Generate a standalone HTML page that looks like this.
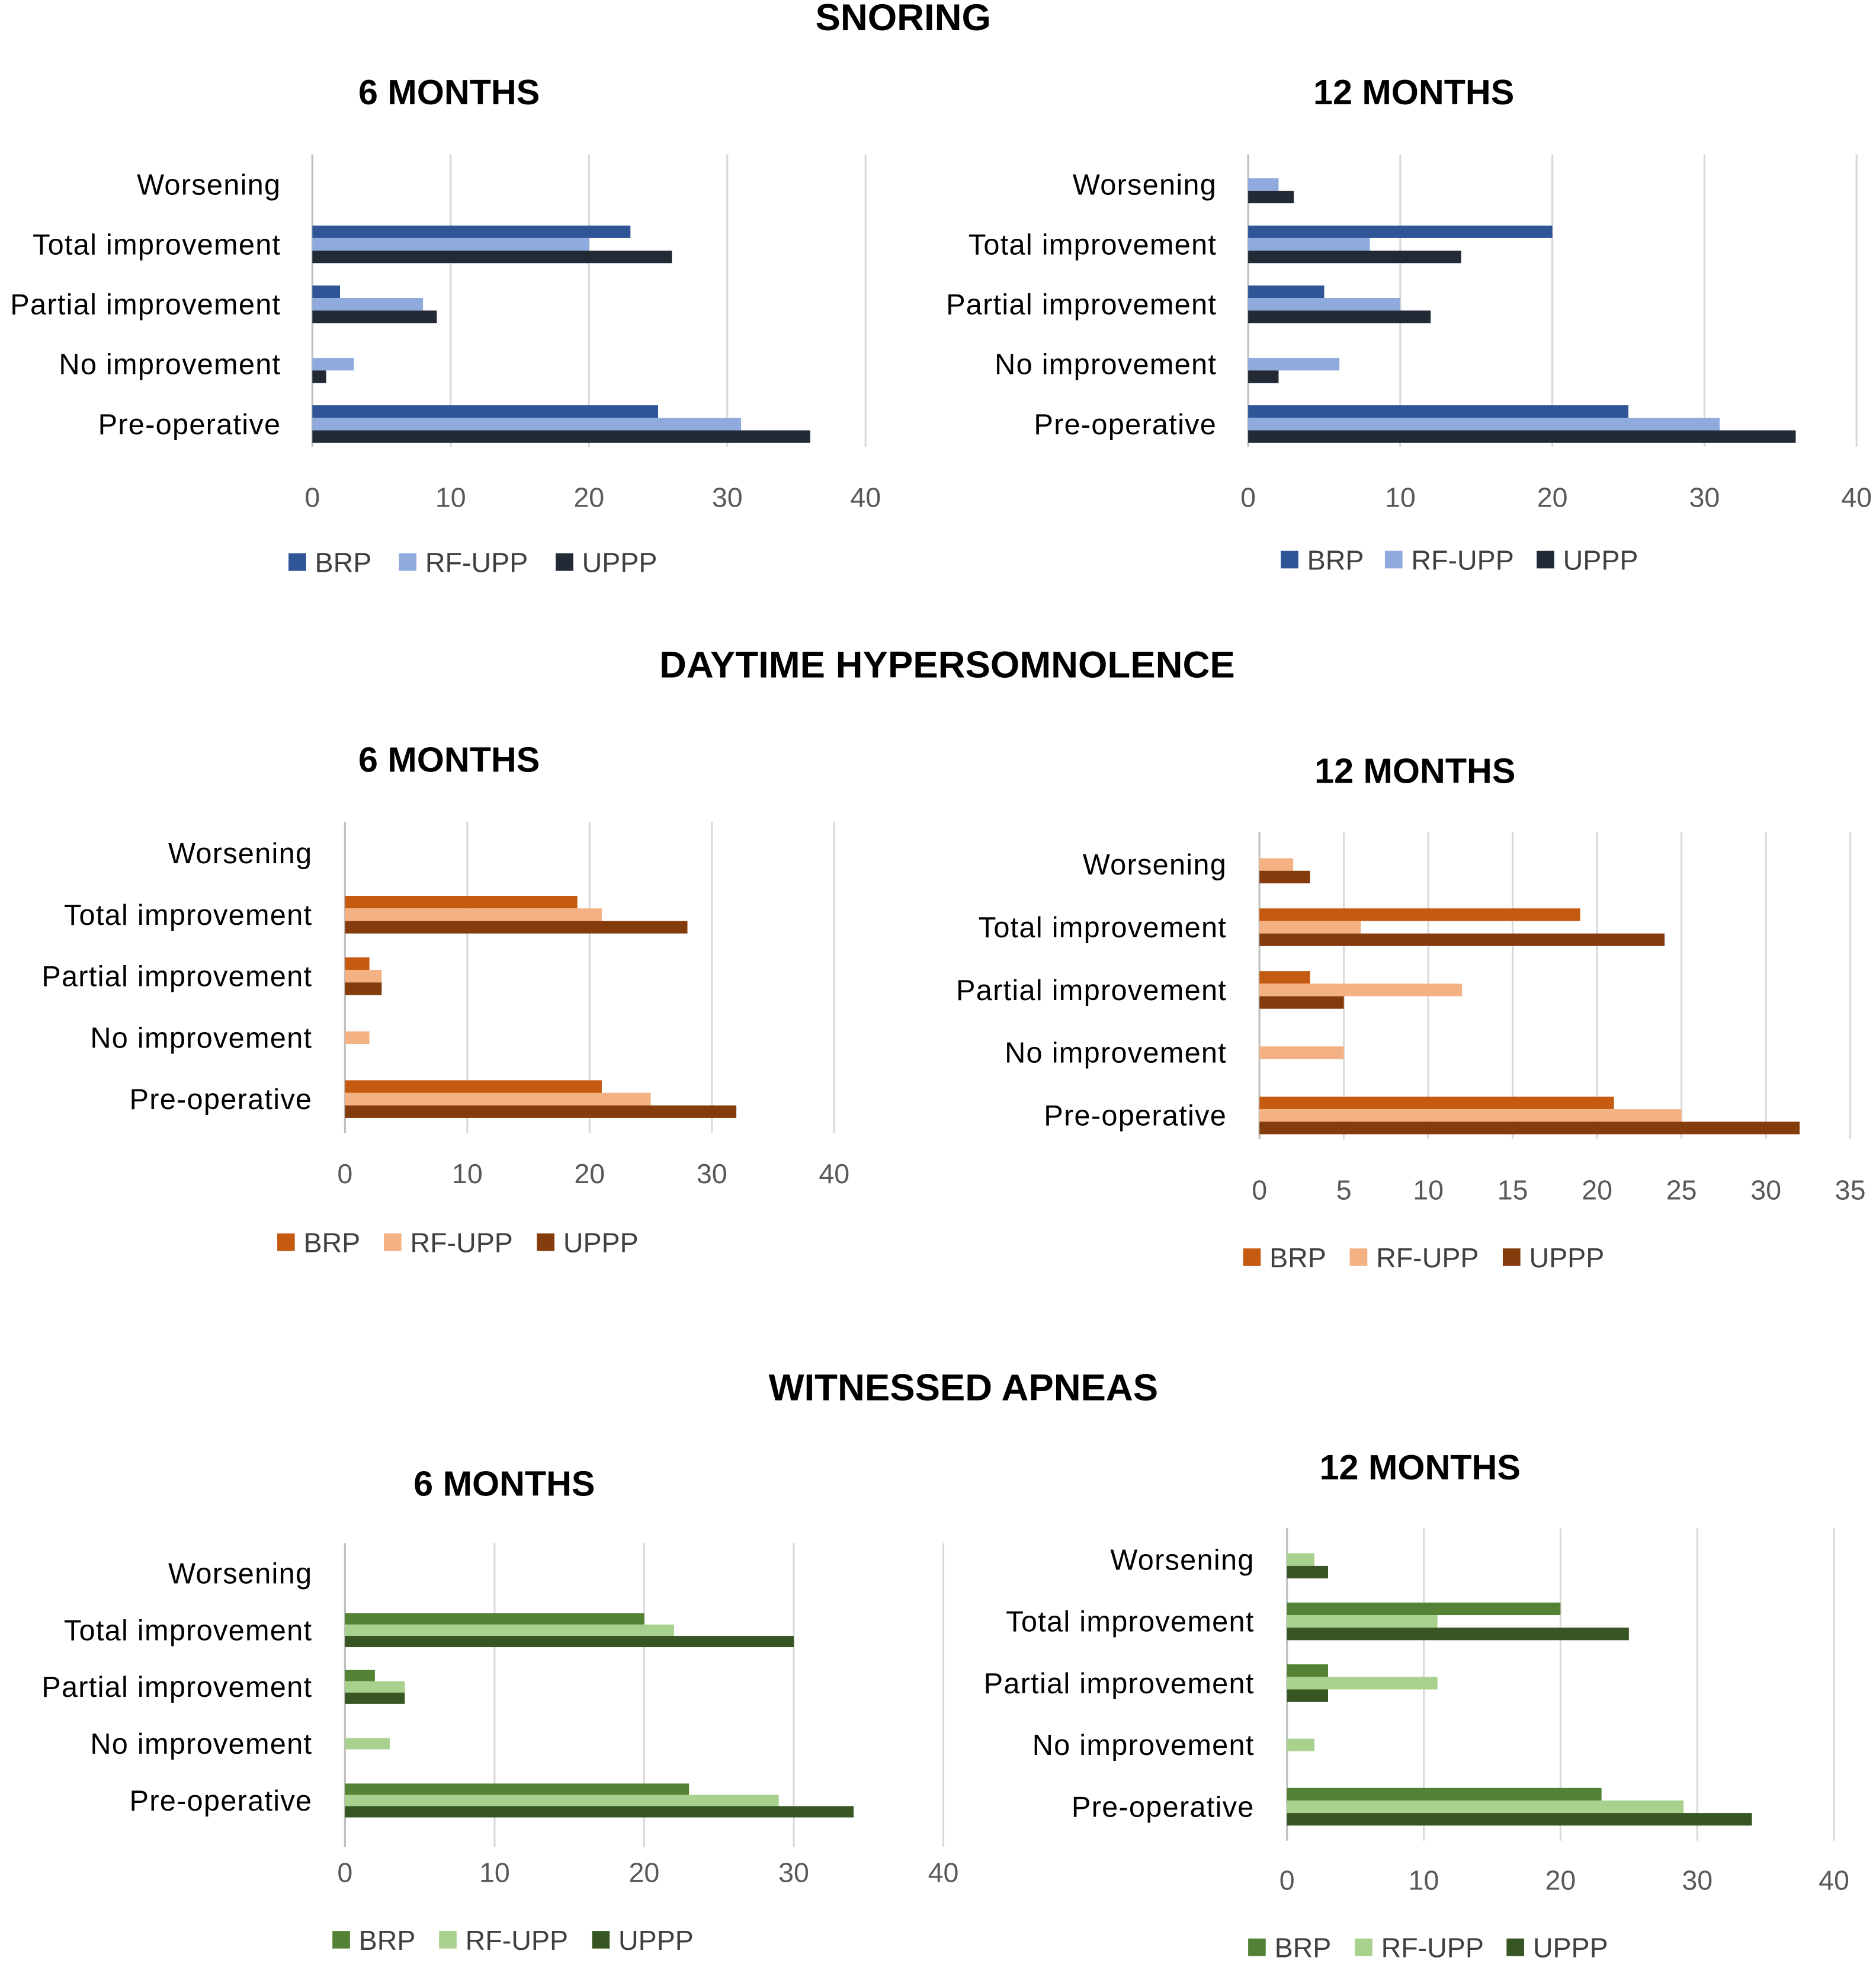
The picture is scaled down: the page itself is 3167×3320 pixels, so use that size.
<!DOCTYPE html>
<html><head><meta charset="utf-8"><style>
html,body{margin:0;padding:0;background:#fff}
svg{display:block}
text{font-family:"Liberation Sans",sans-serif}
</style></head><body>
<svg id="root" width="3167" height="3320" viewBox="0 0 1495.5 1567.7" xmlns="http://www.w3.org/2000/svg">
<text x="720" y="24" text-anchor="middle" font-size="30" font-weight="bold" fill="#000">SNORING</text>
<text x="755" y="540" text-anchor="middle" font-size="30" font-weight="bold" fill="#000">DAYTIME HYPERSOMNOLENCE</text>
<text x="768" y="1116" text-anchor="middle" font-size="30" font-weight="bold" fill="#000">WITNESSED APNEAS</text>
</svg>
<script>
const categories = ["Worsening","Total improvement","Partial improvement","No improvement","Pre-operative"];
const seriesNames = ["BRP","RF-UPP","UPPP"];
// snoring 6 months
const snoring6BRP = [0,23,2,0,25];
const snoring6RF = [0,20,8,3,31];
const snoring6UPPP = [0,26,9,1,36];
// snoring 12 months
const snoring12BRP = [0,20,5,0,25];
const snoring12RF = [2,8,10,6,31];
const snoring12UPPP = [3,14,12,2,36];
// daytime hypersomnolence 6 months
const dh6BRP = [0,19,2,0,21];
const dh6RF = [0,21,3,2,25];
const dh6UPPP = [0,28,3,0,32];
// daytime hypersomnolence 12 months
const dh12BRP = [0,19,3,0,21];
const dh12RF = [2,6,12,5,25];
const dh12UPPP = [3,24,5,0,32];
// witnessed apneas 6 months
const wa6BRP = [0,20,2,0,23];
const wa6RF = [0,22,4,3,29];
const wa6UPPP = [0,30,4,0,34];
// witnessed apneas 12 months
const wa12BRP = [0,20,3,0,23];
const wa12RF = [2,11,11,2,29];
const wa12UPPP = [3,25,3,0,34];
const ticks40 = [0,10,20,30,40];
const ticks35 = [0,5,10,15,20,25,30,35];

const NS="http://www.w3.org/2000/svg";
const root=document.getElementById('root');
function mk(tag,attrs,parent,txt){const e=document.createElementNS(NS,tag);for(const k in attrs)e.setAttribute(k,attrs[k]);if(txt!==undefined)e.textContent=txt;parent.appendChild(e);return e;}

function chart(cfg){
  const g=mk('g',{},root);
  
  
  const maxV=cfg.ticks[cfg.ticks.length-1];
  const x=v=>cfg.x0+(cfg.x1-cfg.x0)*v/maxV;
  const t=mk('text',{x:cfg.titleX,y:cfg.titleY,'text-anchor':'middle','font-size':28,'font-weight':'bold',fill:'#000'},g,cfg.title);
  
  
  cfg.ticks.forEach(tv=>{
    const l=mk('line',{x1:x(tv),x2:x(tv),y1:cfg.gy0,y2:cfg.gy1,stroke:tv===0?'#bfbfbf':'#d9d9d9','stroke-width':1.5},g);
    
    
    const tl=mk('text',{x:x(tv),y:cfg.tickY,'text-anchor':'middle','font-size':22,fill:'#595959'},g,String(tv));
    
    
  });
  const series=[cfg.s0,cfg.s1,cfg.s2];
  categories.forEach((c,i)=>{
    const cy=cfg.cy0+cfg.step*i;
    const cl=mk('text',{x:cfg.labelX,y:cy+8,'text-anchor':'end','font-size':23,'letter-spacing':0.6,fill:'#000'},g,c);
    
    
    series.forEach((s,j)=>{
      const v=s[i];
      if(v<=0)return;
      const r=mk('rect',{x:x(0),y:cy-1.5*cfg.bh+j*cfg.bh,width:x(v)-x(0),height:cfg.bh,fill:cfg.colors[j]},g);
      
      
    });
  });
  cfg.legX.forEach((lx,j)=>{
    const sq=mk('rect',{x:lx,y:cfg.legY-7,width:14,height:14,fill:cfg.colors[j]},g);
    
    
    const lt=mk('text',{x:lx+21,y:cfg.legY+8,'font-size':22,fill:'#404040'},g,seriesNames[j]);
    
    
  });
}
const blue=['#2f5597','#8faadc','#222a35'];
const orange=['#c55a11','#f4b183','#843c0c'];
const green=['#548235','#a9d18e','#375623'];
chart({name:'snoring-6-months-chart',title:'6 MONTHS',titleX:358,titleY:83,x0:249,x1:690,ticks:ticks40,gy0:123,gy1:356,tickY:404,cy0:147,step:47.75,bh:10,labelX:224,s0:snoring6BRP,s1:snoring6RF,s2:snoring6UPPP,colors:blue,legX:[230,318,443],legY:448});
chart({name:'snoring-12-months-chart',title:'12 MONTHS',titleX:1127,titleY:83,x0:995,x1:1480,ticks:ticks40,gy0:123,gy1:356,tickY:404,cy0:147,step:47.75,bh:10,labelX:970,s0:snoring12BRP,s1:snoring12RF,s2:snoring12UPPP,colors:blue,legX:[1021,1104,1225],legY:446});
chart({name:'hypersomnolence-6-months-chart',title:'6 MONTHS',titleX:358,titleY:615,x0:275,x1:665,ticks:ticks40,gy0:655,gy1:903,tickY:943,cy0:680,step:49,bh:10,labelX:249,s0:dh6BRP,s1:dh6RF,s2:dh6UPPP,colors:orange,legX:[221,306,428],legY:990});
chart({name:'hypersomnolence-12-months-chart',title:'12 MONTHS',titleX:1128,titleY:624,x0:1004,x1:1475,ticks:ticks35,gy0:663,gy1:908,tickY:956,cy0:689,step:50,bh:10,labelX:978,s0:dh12BRP,s1:dh12RF,s2:dh12UPPP,colors:orange,legX:[991,1076,1198],legY:1002});
chart({name:'apneas-6-months-chart',title:'6 MONTHS',titleX:402,titleY:1192,x0:275,x1:752,ticks:ticks40,gy0:1230,gy1:1472,tickY:1500,cy0:1254,step:45.25,bh:9,labelX:249,s0:wa6BRP,s1:wa6RF,s2:wa6UPPP,colors:green,legX:[265,350,472],legY:1546});
chart({name:'apneas-12-months-chart',title:'12 MONTHS',titleX:1132,titleY:1179,x0:1026,x1:1462,ticks:ticks40,gy0:1218,gy1:1467,tickY:1506,cy0:1243,step:49.25,bh:10,labelX:1000,s0:wa12BRP,s1:wa12RF,s2:wa12UPPP,colors:green,legX:[995,1080,1201],legY:1552});
</script>
</body></html>
